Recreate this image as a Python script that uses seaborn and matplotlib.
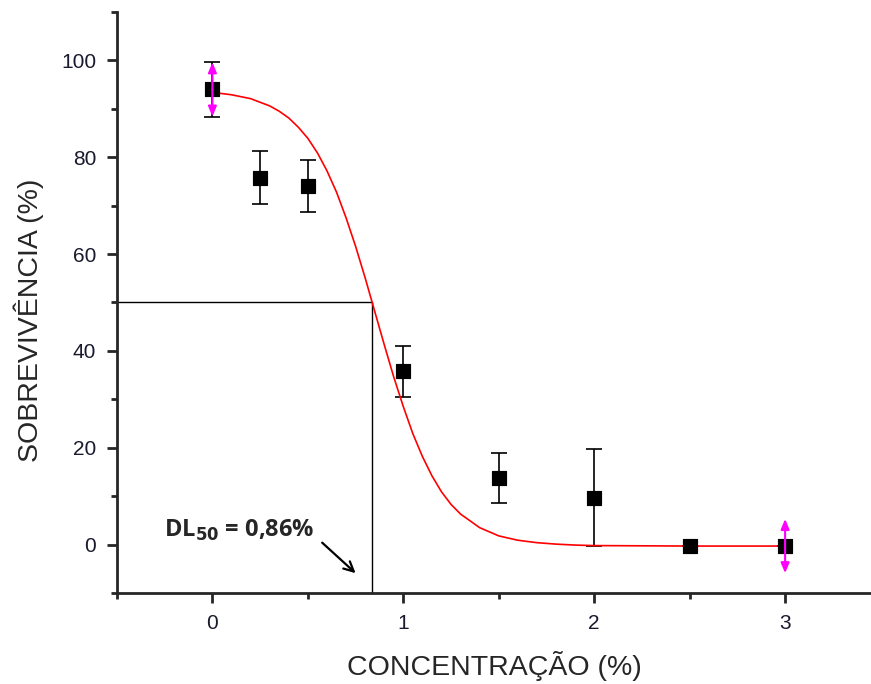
import numpy as np
import pandas as pd
import matplotlib
matplotlib.use("Agg")
import matplotlib.pyplot as plt
import seaborn as sns
from matplotlib.ticker import MultipleLocator

# -----------------------------
# Data
# -----------------------------
conc = [0, 0.25, 0.5, 1.0, 1.5, 2.0, 2.5, 3.0]
surv = [94.0, 75.8, 74.0, 35.8, 13.8, 9.7, -0.3, -0.3]
surv_err = [5.6, 5.4, 5.4, 5.3, 5.2, 10.0, 0.0, 0.0]

# points with magenta arrows (Origin style)
arrow_x = [0, 3.0]
arrow_y = [94.0, -0.3]
arrow_len = [5.6, 5.6]

# fitted (Boltzmann) curve, sampled off the figure
fit_x = [0, 0.1, 0.2, 0.3, 0.35, 0.4, 0.45, 0.5, 0.55, 0.6, 0.65, 0.7, 0.75,
         0.8, 0.85, 0.9, 0.95, 1.0, 1.05, 1.1, 1.15, 1.2, 1.25, 1.3, 1.4,
         1.5, 1.6, 1.7, 1.8, 1.9, 2.0, 2.5, 3.0]
fit_y = [93.4, 92.9, 92.1, 90.6, 89.5, 88.1, 86.2, 83.9, 80.9, 77.2, 72.8,
         67.5, 61.6, 55.1, 48.2, 41.3, 34.6, 28.5, 22.9, 18.2, 14.2, 10.9,
         8.3, 6.3, 3.5, 1.8, 0.9, 0.4, 0.1, -0.1, -0.2, -0.3, -0.3]

dl50_x = 0.838
dl50_y = 50

df = pd.DataFrame({"conc": conc, "surv": surv, "err": surv_err})
fit = pd.DataFrame({"x": fit_x, "y": fit_y})

# -----------------------------
# Figure
# -----------------------------
sns.set_style("ticks")
plt.rcParams["font.family"] = ["Liberation Sans", "DejaVu Sans"]

fig = plt.figure(figsize=(8.71, 6.84), dpi=100)
ax = fig.add_axes([0.1343, 0.133, 0.8657, 0.8495])

# DL50 guide lines
ax.plot([-0.5, dl50_x], [dl50_y, dl50_y], color="black", lw=1.0, zorder=1)
ax.plot([dl50_x, dl50_x], [-10, dl50_y], color="black", lw=1.0, zorder=1)

# error bars
ax.errorbar(df["conc"], df["surv"], yerr=df["err"], fmt="none",
            ecolor="black", elinewidth=1.2, capsize=6, capthick=1.2, zorder=2)

# fit curve
sns.lineplot(data=fit, x="x", y="y", ax=ax, color="red", lw=1.2,
             sort=False, zorder=3)

# markers
sns.scatterplot(data=df, x="conc", y="surv", ax=ax, marker="s", s=110,
                color="black", edgecolor="black", zorder=4)

# magenta arrows
for xa, ya, la in zip(arrow_x, arrow_y, arrow_len):
    for sgn in (1, -1):
        ax.annotate("", xy=(xa, ya + sgn * la), xytext=(xa, ya),
                    arrowprops=dict(arrowstyle="-|>,head_length=0.6,head_width=0.25",
                                    color="magenta", lw=1.5,
                                    shrinkA=0, shrinkB=0), zorder=5)

# DL50 label
ax.text(-0.255, 2.9, "DL$_{\\mathbf{50}}$ = 0,86%", fontsize=17, fontweight="bold",
        family=["Open Sans", "DejaVu Sans"], ha="left", va="center")
ax.annotate("", xy=(0.75, -5.9), xytext=(0.575, 0.4),
            arrowprops=dict(arrowstyle="->,head_length=0.7,head_width=0.35",
                            color="black", lw=1.6, shrinkA=0, shrinkB=0))

# axes styling
ax.set_xlim(-0.5, 3.45)
ax.set_ylim(-10, 110)
ax.xaxis.set_major_locator(MultipleLocator(1))
ax.xaxis.set_minor_locator(MultipleLocator(0.5))
ax.yaxis.set_major_locator(MultipleLocator(20))
ax.yaxis.set_minor_locator(MultipleLocator(10))
ax.set_yticks([0, 20, 40, 60, 80, 100])
ax.tick_params(which="major", length=7, width=2, labelsize=15, pad=8,
               labelcolor="#1a1a2e")
ax.tick_params(which="minor", length=4, width=2)
for side in ("left", "bottom"):
    ax.spines[side].set_linewidth(2)
sns.despine(ax=ax)

ax.set_xlabel("CONCENTRAÇÃO (%)", fontsize=20.5, labelpad=13)
ax.set_ylabel("SOBREVIVÊNCIA (%)", fontsize=20.5)
ax.yaxis.set_label_coords(-0.097, 0.47)

plt.savefig("out.png", dpi=100)
